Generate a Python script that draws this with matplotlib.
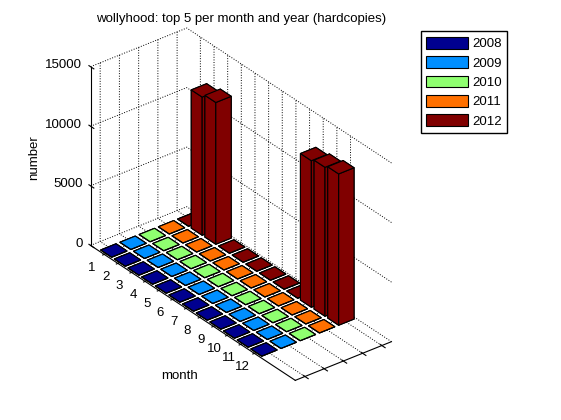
import numpy as np
import matplotlib.pyplot as plt
from matplotlib.patches import Patch
from matplotlib.transforms import ScaledTranslation

plt.rcParams['font.family'] = ['Liberation Sans', 'DejaVu Sans']
plt.rcParams['grid.linestyle'] = ':'
plt.rcParams['grid.color'] = 'k'
plt.rcParams['grid.linewidth'] = 0.7

# months on one axis, years as the series
months = list(range(1, 13))
years = ['2008', '2009', '2010', '2011', '2012']
colors = ['#00008f', '#008fff', '#8fff70', '#ff7000', '#800000']

# hardcopies per month (only 2012 has real numbers)
counts_2008 = [0, 0, 0, 0, 0, 0, 0, 0, 0, 0, 0, 0]
counts_2009 = [0, 0, 0, 0, 0, 0, 0, 0, 0, 0, 0, 0]
counts_2010 = [0, 0, 0, 0, 0, 0, 0, 0, 0, 0, 0, 0]
counts_2011 = [0, 0, 0, 0, 0, 0, 0, 0, 0, 0, 0, 0]
counts_2012 = [0, 11600, 11900, 0, 0, 0, 0, 0, 0, 12300, 12500, 12700]
all_counts = [counts_2008, counts_2009, counts_2010, counts_2011, counts_2012]

fig = plt.figure(figsize=(5.61, 4.2), dpi=100)
ax = fig.add_axes([0.045, 0.026, 0.75, 0.95], projection='3d', proj_type='ortho')

# one bar3d call so the depth sorting works over all bars
xs, ys, hs, cs = [], [], [], []
for j, vals in enumerate(all_counts):
    for m, v in zip(months, vals):
        xs.append(m - 0.4)
        ys.append(j + 1 - 0.4)
        hs.append(v)
        cs.append(colors[j])
ax.bar3d(xs, ys, np.zeros(len(xs)), 0.8, 0.8, hs, color=cs,
         edgecolor='k', linewidth=0.8, shade=False)

ax.set_xlim(0, 15)
ax.set_ylim(0.5, 5.5)
ax.set_zlim(0, 15000)
ax.set_xticks(months)
ax.set_yticks(range(1, 6))
ax.set_yticklabels([''] * 5)
ax.set_zticks([0, 5000, 10000, 15000])
ax.tick_params(labelsize=9.5)
ax.xaxis.set_tick_params(pad=-3)

ax.set_box_aspect((327, 120, 205))
ax.view_init(elev=31, azim=-38)

# put the z axis on the left edge like matlab
ax.zaxis._axinfo['juggled'] = (1, 2, 0)

for axis in (ax.xaxis, ax.yaxis, ax.zaxis):
    axis.set_pane_color((1, 1, 1, 0))
    axis.pane.set_edgecolor('none')
    axis._axinfo['grid'].update(linestyle=':', color='k', linewidth=0.7)


# axis3d resets tick transforms on every draw, so nudge the labels there:
# month labels sit further left, z labels are right-aligned
def nudge_labels(axis, dx, ha):
    orig = axis.get_major_ticks
    shift = ScaledTranslation(dx, 0, fig.dpi_scale_trans)

    def get_major_ticks(numticks=None):
        ticks = orig(numticks)
        for t in ticks:
            t.label1.set_transform(ax.transData + shift)
            t.label1.set_horizontalalignment(ha)
        return ticks
    axis.get_major_ticks = get_major_ticks


nudge_labels(ax.xaxis, -0.09, 'center')
nudge_labels(ax.zaxis, 0.15, 'right')

# axis labels stay horizontal / vertical as in the original
fig.text(0.320, 0.105, 'month', ha='center', va='center', fontsize=9.5)
fig.text(0.060, 0.624, 'number', ha='center', va='center', fontsize=9.5,
         rotation=90)

fig.text(0.43, 0.955, 'wollyhood: top 5 per month and year (hardcopies)',
         ha='center', va='center', fontsize=9.5)

handles = [Patch(facecolor=c, edgecolor='k', linewidth=0.8) for c in colors]
fig.legend(handles, years, loc='upper left', bbox_to_anchor=(0.75, 0.925),
           fancybox=False, edgecolor='k', framealpha=1, fontsize=9.5,
           handlelength=3.2, handleheight=1.0, labelspacing=0.45,
           handletextpad=0.3, borderpad=0.4, borderaxespad=0)

fig.savefig('out.png', dpi=100)
